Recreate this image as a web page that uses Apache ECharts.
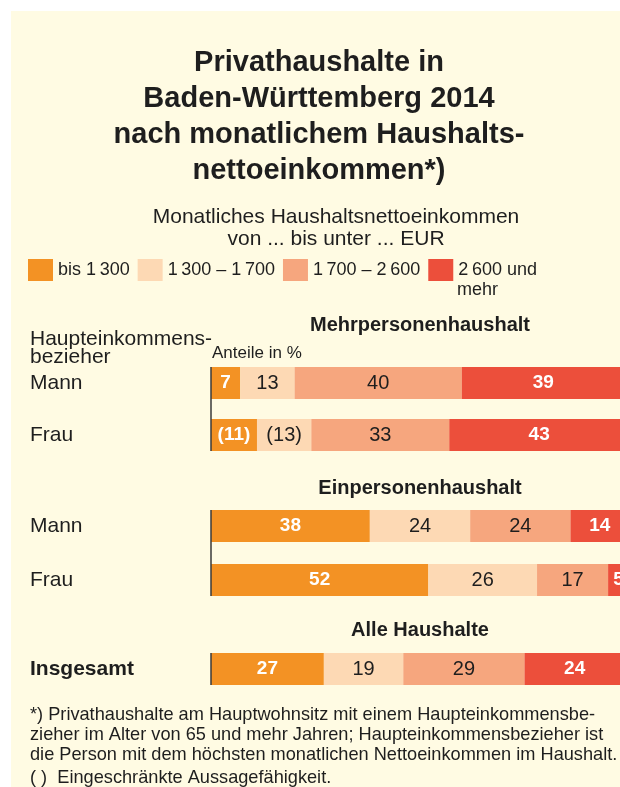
<!DOCTYPE html>
<html>
<head>
<meta charset="utf-8">
<script src="https://cdn.jsdelivr.net/npm/echarts@6/dist/echarts.min.js"></script>
<style>
  html, body { margin: 0; padding: 0; background: #fff; }
  #main { width: 620px; height: 787px; }
</style>
</head>
<body>
<div id="main"></div>
<script>
// Daten
var einkommensKlassen = ['bis 1\u2009300', '1\u2009300 – 1\u2009700', '1\u2009700 – 2\u2009600', '2\u2009600 und mehr'];
var klassenFarben = ['#f39224', '#fdd9b4', '#f6a67e', '#ec4f3b'];

var mehrpersonenZeilen = ['Mann', 'Frau'];
var mehrpersonenWerte = [[7, 13, 40, 39], [11, 13, 33, 43]];
var mehrpersonenKlammer = [[false, false, false, false], [true, true, false, false]];

var einpersonenZeilen = ['Mann', 'Frau'];
var einpersonenWerte = [[38, 24, 24, 14], [52, 26, 17, 5]];

var alleZeilen = ['Insgesamt'];
var alleWerte = [[27, 19, 29, 24]];

var gruppen = [
    { titel: 'Mehrpersonenhaushalt', zeilen: mehrpersonenZeilen, werte: mehrpersonenWerte, klammer: mehrpersonenKlammer, top: 357, height: 104 },
    { titel: 'Einpersonenhaushalt', zeilen: einpersonenZeilen, werte: einpersonenWerte, klammer: null, top: 499, height: 108 },
    { titel: 'Alle Haushalte', zeilen: alleZeilen, werte: alleWerte, klammer: null, top: 643, height: 52 }
];

var schrift = '"Liberation Sans", Arial, sans-serif';
var textFarbe = '#1e1e1e';

var myChart = echarts.init(document.getElementById('main'));

var grids = [], xAxes = [], yAxes = [], series = [];
gruppen.forEach(function (g, gi) {
    grids.push({ left: 211, width: 418, top: g.top, height: g.height, outerBoundsMode: 'none', containLabel: false });
    xAxes.push({ type: 'value', gridIndex: gi, min: 0, max: 100, show: false });
    yAxes.push({
        type: 'category',
        gridIndex: gi,
        inverse: true,
        data: g.zeilen,
        axisLine: { show: false },
        axisTick: { show: false },
        splitLine: { show: false },
        axisLabel: {
            align: 'left',
            margin: 181,
            fontSize: 21,
            fontFamily: schrift,
            color: textFarbe,
            fontWeight: gi === 2 ? 'bold' : 'normal'
        }
    });
    einkommensKlassen.forEach(function (name, k) {
        var dunkel = (k === 0 || k === 3);
        series.push({
            name: name,
            type: 'bar',
            stack: 'g' + gi,
            xAxisIndex: gi,
            yAxisIndex: gi,
            barWidth: 32,
            itemStyle: { color: klassenFarben[k] },
            label: {
                show: true,
                position: 'inside',
                fontFamily: schrift,
                fontSize: dunkel ? 19 : 20,
                fontWeight: dunkel ? 'bold' : 'normal',
                color: dunkel ? '#fff' : textFarbe,
                formatter: function (p) {
                    var s = String(p.value);
                    if (g.klammer && g.klammer[p.dataIndex][k]) s = '(' + s + ')';
                    return s;
                }
            },
            data: g.werte.map(function (r) { return r[k]; })
        });
    });
});

var option = {
    backgroundColor: '#fff',
    animation: false,
    title: [
        {
            text: 'Privathaushalte in\nBaden-Württemberg 2014\nnach monatlichem Haushalts-\nnettoeinkommen*)',
            left: 319, top: 45, textAlign: 'center', padding: 0,
            textStyle: { fontFamily: schrift, fontSize: 29, fontWeight: 'bold', lineHeight: 36, color: textFarbe }
        },
        {
            text: 'Monatliches Haushaltsnettoeinkommen\nvon ... bis unter ... EUR',
            left: 336, top: 206, textAlign: 'center', padding: 0,
            textStyle: { fontFamily: schrift, fontSize: 21, fontWeight: 'normal', lineHeight: 22, color: textFarbe }
        },
        {
            text: 'mehr',
            left: 457, top: 280, padding: 0,
            textStyle: { fontFamily: schrift, fontSize: 18, fontWeight: 'normal', lineHeight: 20, color: textFarbe }
        },
        {
            text: 'Haupteinkommens-\nbezieher',
            left: 30, top: 330, padding: 0,
            textStyle: { fontFamily: schrift, fontSize: 21, fontWeight: 'normal', lineHeight: 18, color: textFarbe }
        },
        {
            text: 'Anteile in %',
            left: 212, top: 344, padding: 0,
            textStyle: { fontFamily: schrift, fontSize: 17, fontWeight: 'normal', lineHeight: 18, color: textFarbe }
        },
        {
            text: gruppen[0].titel,
            left: 420, top: 315, textAlign: 'center', padding: 0,
            textStyle: { fontFamily: schrift, fontSize: 20, fontWeight: 'bold', lineHeight: 20, color: textFarbe }
        },
        {
            text: gruppen[1].titel,
            left: 420, top: 478, textAlign: 'center', padding: 0,
            textStyle: { fontFamily: schrift, fontSize: 20, fontWeight: 'bold', lineHeight: 20, color: textFarbe }
        },
        {
            text: gruppen[2].titel,
            left: 420, top: 620, textAlign: 'center', padding: 0,
            textStyle: { fontFamily: schrift, fontSize: 20, fontWeight: 'bold', lineHeight: 20, color: textFarbe }
        },
        {
            text: '*) Privathaushalte am Hauptwohnsitz mit einem Haupteinkommensbe-\nzieher im Alter von 65 und mehr Jahren; Haupteinkommensbezieher ist\ndie Person mit dem höchsten monatlichen Nettoeinkommen im Haushalt.',
            left: 30, top: 705, padding: 0,
            textStyle: { fontFamily: schrift, fontSize: 18.2, fontWeight: 'normal', lineHeight: 20, color: textFarbe }
        },
        {
            text: '( )  Eingeschränkte Aussagefähigkeit.',
            left: 30, top: 768, padding: 0,
            textStyle: { fontFamily: schrift, fontSize: 18.2, fontWeight: 'normal', lineHeight: 20, color: textFarbe }
        }
    ],
    // Legende
    legend: {
        left: 28,
        top: 259,
        padding: 0,
        itemWidth: 25,
        itemHeight: 22,
        itemGap: 8,
        icon: 'rect',
        selectedMode: false,
        data: einkommensKlassen,
        formatter: function (name) {
            return name === einkommensKlassen[3] ? '2\u2009600 und' : name;
        },
        textStyle: { fontFamily: schrift, fontSize: 18, color: textFarbe }
    },
    grid: grids,
    xAxis: xAxes,
    yAxis: yAxes,
    series: series,
    graphic: [
        {
            id: 'hintergrund',
            type: 'rect',
            z: -10,
            silent: true,
            shape: { x: 11, y: 11, width: 640, height: 800 },
            style: { fill: '#fffbe3' }
        }
    ]
};

myChart.setOption(option);

// senkrechte Achsenlinie je Gruppe, aus den Achsen berechnet
var linien = [];
gruppen.forEach(function (g, gi) {
    var oben = myChart.convertToPixel({ gridIndex: gi }, [0, 0]);
    var unten = myChart.convertToPixel({ gridIndex: gi }, [0, g.zeilen.length - 1]);
    linien.push({
        id: 'achse' + gi,
        type: 'line',
        z: 10,
        silent: true,
        shape: { x1: oben[0], y1: oben[1] - 16, x2: unten[0], y2: unten[1] + 16 },
        style: { stroke: '#3a3a3a', lineWidth: 1.5 }
    });
});
myChart.setOption({ graphic: linien });

window.onresize = function () {
    myChart.resize();
};
</script>
</body>
</html>
